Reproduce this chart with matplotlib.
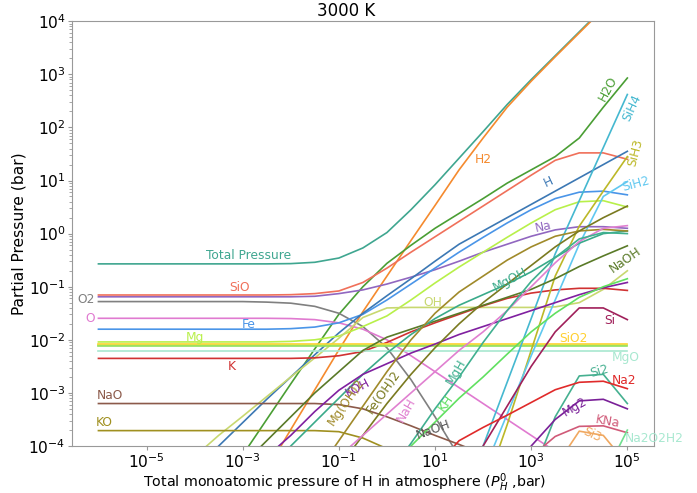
import numpy as np
import matplotlib
matplotlib.use("Agg")
import matplotlib.pyplot as plt
from matplotlib.ticker import NullFormatter

# log10 of the total monoatomic H pressure (bar)
log_ph = [-6, -5.5, -5, -4.5, -4, -3.5, -3, -2.5, -2, -1.5, -1, -0.5,
          0, 0.5, 1, 1.5, 2, 2.5, 3, 3.5, 4, 4.5, 5]

N = np.nan
# log10 partial pressures (bar), one value per entry of log_ph
total = [-0.57, -0.57, -0.57, -0.57, -0.57, -0.57, -0.57, -0.57, -0.565, -0.54, -0.46, -0.27,
         0.02, 0.45, 0.92, 1.42, 1.92, 2.43, 2.9, 3.35, 3.8, 4.25, 4.7]
h2 = [-9.7, -8.95, -8.2, -7.45, -6.7, -5.9, -5.2, -4.45, -3.69, -2.94, -2.19, -1.47,
      -0.8, -0.13, 0.53, 1.2, 1.8, 2.38, 2.87, 3.33, 3.78, 4.23, 4.68]
h2o = [-8.3, -7.6, -6.9, -6.2, -5.5, -4.85, -4.17, -3.5, -2.83, -2.17, -1.52, -1.0,
       -0.56, -0.22, 0.1, 0.38, 0.66, 0.95, 1.2, 1.45, 1.8, 2.38, 2.93]
sio = [-1.156, -1.156, -1.156, -1.156, -1.156, -1.156, -1.156, -1.156, -1.15, -1.13, -1.08, -0.92,
       -0.65, -0.35, -0.06, 0.23, 0.52, 0.81, 1.1, 1.38, 1.52, 1.52, 1.4]
na = [-1.19, -1.19, -1.19, -1.19, -1.19, -1.19, -1.19, -1.19, -1.19, -1.18, -1.13, -1.06,
      -0.95, -0.82, -0.68, -0.52, -0.35, -0.2, -0.05, 0.07, 0.13, 0.13, 0.1]
o2 = [-1.28, -1.28, -1.28, -1.28, -1.28, -1.28, -1.28, -1.29, -1.31, -1.37, -1.5, -1.75,
      -2.15, -2.75, -3.45, -4.2, -5.0, -5.8, -6.6, -7.4, -8.2, -9.0, -9.8]
o = [-1.595, -1.595, -1.595, -1.595, -1.595, -1.595, -1.595, -1.595, -1.6, -1.62, -1.68, -1.8,
     -2.0, -2.3, -2.6, -2.9, -3.2, -3.5, -3.8, -4.1, -4.4, -4.7, -5.0]
fe = [-1.8, -1.8, -1.8, -1.8, -1.8, -1.8, -1.8, -1.8, -1.79, -1.76, -1.68, -1.52,
      -1.25, -0.95, -0.65, -0.35, -0.07, 0.2, 0.45, 0.66, 0.78, 0.8, 0.73]
h = [-6.25, -5.8, -5.35, -4.9, -4.45, -4.0, -3.56, -3.12, -2.7, -2.28, -1.87, -1.5,
     -1.17, -0.85, -0.52, -0.2, 0.05, 0.3, 0.55, 0.8, 1.05, 1.3, 1.55]
mg = [-2.04, -2.04, -2.04, -2.04, -2.04, -2.04, -2.04, -2.04, -2.03, -2.0, -1.93, -1.75,
      -1.55, -1.25, -0.93, -0.63, -0.35, -0.07, 0.2, 0.45, 0.6, 0.62, 0.5]
oh = [-5.65, -5.3, -4.9, -4.55, -4.2, -3.8, -3.44, -3.07, -2.7, -2.34, -1.97, -1.58,
      -1.4, -1.39, -1.39, -1.39, -1.39, -1.39, -1.39, -1.38, -1.3, -1.05, -0.7]
k = [-2.35, -2.35, -2.35, -2.35, -2.35, -2.35, -2.35, -2.35, -2.35, -2.34, -2.3, -2.22,
     -2.05, -1.85, -1.68, -1.52, -1.36, -1.22, -1.12, -1.06, -1.03, -1.03, -1.07]
nao = [-3.2, -3.2, -3.2, -3.2, -3.2, -3.2, -3.2, -3.2, -3.2, -3.2, -3.22, -3.3,
       -3.45, -3.62, -3.8, -3.97, -4.15, -4.3, -4.45, -4.6, -4.75, -4.9, -5.05]
ko = [-3.71, -3.71, -3.71, -3.71, -3.71, -3.71, -3.71, -3.71, -3.71, -3.71, -3.73, -3.85,
      -4.05, -4.3, -4.55, -4.8, -5.05, -5.3, -5.55, -5.8, -6.05, -6.3, -6.55]
sio2 = [-2.085] * 23
fe_flat = [-2.1] * 23
na_flat = [-2.125] * 23
mgo = [-2.205] * 23
sih4 = [N, N, N, N, N, N, N, N, N, N, N, N, N, N, N, -5.1, -4.0, -2.8, -1.6, -0.38, 0.62, 1.62, 2.62]
sih3 = [N, N, N, N, N, N, N, N, N, N, N, N, N, N, N, -6.2, -4.9, -3.6, -2.2, -0.8, 0.14, 0.8, 1.45]
sih2 = [N, N, N, N, N, N, N, N, N, N, N, N, N, N, N, -5.7, -4.5, -3.4, -2.3, -1.25, -0.2, 0.7, 0.98]
si = [N, N, N, N, N, N, N, N, N, N, N, N, N, N, N, -4.75, -4.0, -3.25, -2.5, -1.85, -1.4, -1.4, -1.62]
si2 = [N, N, N, N, N, N, N, N, N, N, N, N, N, N, N, N, N, -5.8, -4.6, -3.45, -2.68, -2.65, -3.2]
na2 = [N, N, N, N, N, N, N, N, N, N, N, N, N, -4.9, -4.4, -3.9, -3.65, -3.42, -3.18, -2.94, -2.8, -2.78, -2.92]
mg2 = [N, N, N, N, N, N, N, N, N, N, N, N, N, N, N, N, N, -4.7, -4.0, -3.5, -3.15, -3.12, -3.3]
kna = [N, N, N, N, N, N, N, N, N, N, N, N, N, N, N, N, N, -4.6, -4.2, -3.82, -3.63, -3.62, -3.75]
si3 = [N, N, N, N, N, N, N, N, N, N, N, N, N, N, N, N, N, N, -5.5, -4.4, -3.72, -3.8, -4.35]
na2o2h2 = [N, N, N, N, N, N, N, N, N, N, N, N, N, N, N, N, N, N, N, N, -5.6, -4.6, -3.7]
naoh = [N, N, N, N, N, -4.8, -4.35, -3.9, -3.45, -3.0, -2.6, -2.2,
        -1.95, -1.8, -1.65, -1.5, -1.35, -1.2, -1.05, -0.85, -0.62, -0.42, -0.23]
mgoh = [N, N, N, N, N, N, N, -4.5, -4.0, -3.55, -3.1, -2.65,
        -2.25, -1.9, -1.6, -1.35, -1.15, -0.95, -0.72, -0.45, -0.18, 0.0, 0.05]
koh = [N, N, N, N, N, N, -4.6, -4.2, -3.8, -3.35, -2.95, -2.65,
       -2.45, -2.25, -2.08, -1.9, -1.75, -1.6, -1.45, -1.3, -1.15, -1.02, -0.92]
mgoh2 = [N, N, N, N, N, N, N, N, N, -4.55, -3.9, -3.25,
         -2.6, -2.0, -1.5, -1.1, -0.8, -0.5, -0.25, -0.05, 0.05, 0.08, 0.05]
feoh2 = [N, N, N, N, N, N, N, N, N, N, -4.4, -3.8,
         -3.2, -2.65, -2.15, -1.7, -1.3, -0.95, -0.6, -0.25, 0.05, 0.3, 0.52]
nah = [N, N, N, N, N, N, N, N, N, N, -4.2, -3.8,
       -3.4, -3.0, -2.6, -2.2, -1.85, -1.45, -1.0, -0.55, -0.15, 0.1, 0.15]
kh = [N, N, N, N, N, N, N, N, N, N, N, N,
      -4.45, -4.0, -3.55, -3.1, -2.7, -2.27, -1.85, -1.5, -1.2, -1.0, -0.85]
mgh = [N, N, N, N, N, N, N, N, N, N, N, -5.1,
       -4.55, -3.95, -3.3, -2.7, -2.05, -1.45, -0.9, -0.45, -0.1, 0.02, 0.0]

# species name, values, line colour
series = [
    ("Total Pressure", total, "#3fa690"),
    ("H2", h2, "#f58a2e"),
    ("H2O", h2o, "#4a9e34"),
    ("SiO", sio, "#f0705a"),
    ("Na", na, "#9167c0"),
    ("O2", o2, "#808080"),
    ("O", o, "#e07ad0"),
    ("Fe", fe, "#4a95e8"),
    ("H", h, "#3c78b4"),
    ("Mg", mg, "#b8f04a"),
    ("OH", oh, "#c8d870"),
    ("K", k, "#d03232"),
    ("NaO", nao, "#8c5a4a"),
    ("KO", ko, "#a09020"),
    ("SiO2", sio2, "#ffd030"),
    ("FeO", fe_flat, "#e8e040"),
    ("NaOHs", na_flat, "#90e060"),
    ("MgO", mgo, "#a8e8d0"),
    ("SiH4", sih4, "#45b8d0"),
    ("SiH3", sih3, "#bcb828"),
    ("SiH2", sih2, "#60c8f0"),
    ("Si", si, "#a0205a"),
    ("Si2", si2, "#45b090"),
    ("Na2", na2, "#e02a2a"),
    ("Mg2", mg2, "#7a2098"),
    ("KNa", kna, "#d05a78"),
    ("Si3", si3, "#f0a860"),
    ("Na2O2H2", na2o2h2, "#70e090"),
    ("NaOH", naoh, "#5a7a28"),
    ("MgOH", mgoh, "#3aaa8a"),
    ("KOH", koh, "#8020a0"),
    ("Mg(OH)2", mgoh2, "#a08a2a"),
    ("Fe(OH)2", feoh2, "#7a7a20"),
    ("NaH", nah, "#e080d0"),
    ("KH", kh, "#60e060"),
    ("MgH", mgh, "#40b090"),
]

# text labels: (text, log x, log y, rotation, colour, horizontal alignment)
labels = [
    ("Total Pressure", -2.87, -0.42, 0, "#3fa690", "center"),
    ("H2", 2.0, 1.39, 0, "#f58a2e", "center"),
    ("H2O", 4.59, 2.74, 62, "#4a9e34", "center"),
    ("SiH4", 5.1, 2.37, 65, "#45b8d0", "center"),
    ("SiH3", 5.17, 1.52, 75, "#bcb828", "center"),
    ("SiH2", 5.17, 0.93, 15, "#60c8f0", "center"),
    ("H", 3.36, 0.97, 25, "#3c78b4", "center"),
    ("Na", 3.24, 0.12, 12, "#9167c0", "center"),
    ("NaOH", 4.96, -0.5, 35, "#5a7a28", "center"),
    ("MgOH", 2.56, -0.87, 28, "#3aaa8a", "center"),
    ("OH", 0.96, -1.29, 0, "#c8d870", "center"),
    ("Si", 4.63, -1.63, 0, "#a0205a", "center"),
    ("SiO2", 3.88, -1.97, 0, "#ffd030", "center"),
    ("MgO", 4.96, -2.34, 0, "#a8e8d0", "center"),
    ("Si2", 4.42, -2.6, 15, "#45b090", "center"),
    ("Na2", 4.94, -2.76, 0, "#e02a2a", "center"),
    ("Mg2", 3.9, -3.27, 30, "#7a2098", "center"),
    ("KNa", 4.59, -3.55, -10, "#d05a78", "center"),
    ("Si3", 4.28, -3.79, -25, "#f0a860", "center"),
    ("Na2O2H2", 4.95, -3.85, 0, "#a8e8d0", "left"),
    ("KOH", -0.61, -2.91, 28, "#8020a0", "center"),
    ("Mg(OH)2", -0.84, -3.17, 55, "#a08a2a", "center"),
    ("Fe(OH)2", -0.07, -2.98, 55, "#7a7a20", "center"),
    ("NaH", 0.4, -3.32, 60, "#e080d0", "center"),
    ("KH", 1.23, -3.19, 55, "#60e060", "center"),
    ("MgH", 1.44, -2.61, 60, "#40b090", "center"),
    ("NaOH", 0.96, -3.7, 20, "#555555", "center"),
    ("SiO", -3.07, -1.02, 0, "#f0705a", "center"),
    ("O2", -6.26, -1.25, 0, "#808080", "center"),
    ("O", -6.18, -1.59, 0, "#e07ad0", "center"),
    ("Fe", -2.87, -1.72, 0, "#4a95e8", "center"),
    ("Mg", -4.0, -1.95, 0, "#b8f04a", "center"),
    ("K", -3.22, -2.51, 0, "#d03232", "center"),
    ("NaO", -5.77, -3.04, 0, "#8c5a4a", "center"),
    ("KO", -5.87, -3.55, 0, "#a09020", "center"),
]

fig = plt.figure(figsize=(6.97, 4.93), dpi=100)
ax = fig.add_axes([0.1033, 0.0953, 0.8347, 0.8617])

x = 10.0 ** np.array(log_ph)
for name, vals, color in series:
    ax.plot(x, 10.0 ** np.array(vals, dtype=float), color=color, lw=1.2)

for text, lx, ly, rot, color, ha in labels:
    ax.text(10.0 ** lx, 10.0 ** ly, text, color=color, fontsize=8.8,
            rotation=rot, ha=ha, va="center", rotation_mode="anchor", clip_on=False)

ax.set_xscale("log")
ax.set_yscale("log")
ax.set_xlim(10 ** -6.55, 10 ** 5.55)
ax.set_ylim(1e-4, 1e4)
ax.set_xticks([1e-5, 1e-3, 1e-1, 1e1, 1e3, 1e5])
ax.xaxis.set_minor_locator(plt.NullLocator())
decades = [10.0 ** e for e in range(-4, 5)]
ax.set_yticks(decades)
ax.set_yticks([d * m for d in decades[:-1] for m in range(2, 10)], minor=True)
ax.yaxis.set_minor_formatter(NullFormatter())
ax.tick_params(axis="both", which="major", labelsize=11.2, color="#999999", length=3, pad=1.5)
ax.tick_params(axis="y", which="minor", color="#999999", length=2)
for s in ax.spines.values():
    s.set_color("#999999")

fig.text(0.497, 0.995, "3000 K", fontsize=12, ha="center", va="top")
ax.set_xlabel(r"Total monoatomic pressure of H in atmosphere ($P_H^0$ ,bar)", fontsize=10.3)
ax.xaxis.set_label_coords(0.469, -0.059)
ax.set_ylabel("Partial Pressure (bar)", fontsize=11.2)
ax.yaxis.set_label_coords(-0.078, 0.5)

fig.savefig("out.png", dpi=100)
